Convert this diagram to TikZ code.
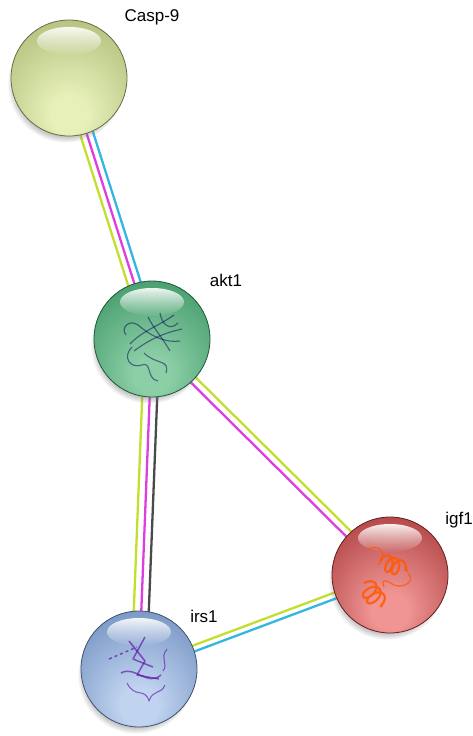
\documentclass[tikz,border=0pt]{standalone}
\usepackage{fontspec}
\setmainfont{Liberation Sans}
\usetikzlibrary{calc,fadings,shadows,backgrounds,decorations.pathmorphing}

% evidence channel colours
\definecolor{textmining}{HTML}{C4DE2E}
\definecolor{experiment}{HTML}{DE3EDE}
\definecolor{database}{HTML}{34B6E0}
\definecolor{coexpress}{HTML}{4A4A4A}
% bubble colours (rim, core)
\definecolor{caspout}{HTML}{ABB975}
\definecolor{caspin}{HTML}{E6F0B8}
\definecolor{aktout}{HTML}{3A9563}
\definecolor{aktin}{HTML}{8CCEA6}
\definecolor{igfout}{HTML}{A73838}
\definecolor{igfin}{HTML}{F09494}
\definecolor{irsout}{HTML}{6C8BBC}
\definecolor{irsin}{HTML}{C0D4F0}

% glassy bubble, light spot sitting low in the ball
\colorlet{bubbleout}{gray}\colorlet{bubblein}{white}\colorlet{bubblerim}{black}
\pgfdeclareradialshading[bubbleout,bubblein,bubblerim]{bubble}{\pgfpoint{0bp}{-18bp}}{%
  color(0bp)=(bubblein); color(8bp)=(bubblein); color(40bp)=(bubbleout); color(64bp)=(bubblerim)}

\tikzset{
  protein/.style 2 args={circle, minimum size=116pt, inner sep=0pt,
    fill=#1, draw=#1!60!black, line width=.8pt,
    circular drop shadow={shadow xshift=-3pt, shadow yshift=-6pt, shadow scale=1.01, opacity=.6},
    path picture={
      \colorlet{bubbleout}{#1}\colorlet{bubblein}{#2}\colorlet{bubblerim}{#1!75!black}
      \shade[shading=bubble] (path picture bounding box.south west) rectangle (path picture bounding box.north east);
      \fill[white, path fading=south, fill opacity=.9] ([yshift=37pt]path picture bounding box.center) ellipse (32pt and 14pt);
    }},
  genename/.style={font=\fontsize{17}{20}\selectfont, inner sep=0pt},
  evid/.style={line width=2.3pt},
}
% one coloured line per evidence channel, shifted sideways from the centre line
\newcommand{\evidence}[4]{\draw[evid,#1] ($(#3)!#2!90:(#4)$) -- ($(#4)!#2!-90:(#3)$);}

\begin{document}
\begin{tikzpicture}[x=1pt,y=-1pt]
  \useasboundingbox (0,0) rectangle (473,736);

  \node[protein={caspout}{caspin}] (casp) at (69,78)  {};
  \node[protein={aktout}{aktin}]   (akt)  at (152,339) {};
  \node[protein={igfout}{igfin}]   (igf)  at (390,575) {};
  \node[protein={irsout}{irsin}]   (irs)  at (139,669) {};

  \node[genename] (casplbl) at (152,17)  {Casp-9};
  \node[genename] (aktlbl)  at (226,280) {akt1};
  \node[genename] (igflbl)  at (459,520) {igf1};
  \node[genename] (irslbl)  at (204,616) {irs1};

  \begin{scope}[on background layer]
    \evidence{textmining}{-6.5pt}{casp}{akt}
    \evidence{experiment}{0pt}{casp}{akt}
    \evidence{database}{6.5pt}{casp}{akt}

    \evidence{textmining}{-7.5pt}{akt}{irs}
    \evidence{experiment}{0pt}{akt}{irs}
    \evidence{coexpress}{7.5pt}{akt}{irs}

    \evidence{textmining}{3.5pt}{akt}{igf}
    \evidence{experiment}{-3.5pt}{akt}{igf}

    \evidence{textmining}{3pt}{irs}{igf}
    \evidence{database}{-3pt}{irs}{igf}
  \end{scope}

  % structure sketches inside the bubbles
  \begin{scope}[shift={(akt)}, draw=blue!35!black, opacity=.5, line width=1.1pt, line join=round]
    \draw (-22,5) .. controls (-10,-8) and (5,-12) .. (22,-24);
    \draw (-18,12) .. controls (-2,0) and (12,-6) .. (30,-10);
    \draw (-14,-14) .. controls (0,-2) and (14,4) .. (28,2);
    \draw (-4,-22) .. controls (2,-10) and (10,-2) .. (18,12);
    \draw (8,-26) .. controls (10,-14) and (18,-8) .. (26,-16);
    \draw (-20,8) .. controls (-30,18) and (-22,30) .. (-10,26) .. controls (0,22) and (-6,40) .. (6,42);
    \draw (-8,14) .. controls (4,26) and (18,20) .. (14,34);
    \draw (-26,-4) .. controls (-32,-12) and (-22,-20) .. (-14,-14);
  \end{scope}
  \begin{scope}[shift={(igf)}, draw=orange!70!red, line width=2.2pt, opacity=.85]
    \draw[decorate, decoration={coil, aspect=.6, segment length=7pt, amplitude=9pt}] (-26,8) -- (-8,32);
    \draw[decorate, decoration={coil, aspect=.6, segment length=7pt, amplitude=8pt}] (-10,-14) -- (18,-4);
    \draw[line width=1.1pt] (-22,-26) .. controls (-8,-32) and (-2,-18) .. (-12,-10);
    \draw[line width=1.1pt] (18,-2) .. controls (26,6) and (14,14) .. (4,10) .. controls (-2,6) and (-10,2) .. (-6,12);
  \end{scope}
  \begin{scope}[shift={(irs)}, draw=violet!70!blue, opacity=.6, line width=1.5pt, line join=round]
    \draw (-10,-28) -- (6,-8) -- (-2,6) -- (20,10);
    \draw (6,-32) -- (-6,-10) -- (14,-2);
    \draw[dashed] (-30,-10) -- (-2,-22);
    \draw (-18,4) .. controls (-4,-4) and (8,18) .. (22,6);
    \draw[line width=1pt] (-12,14) .. controls (-4,30) and (6,18) .. (10,32) .. controls (14,20) and (22,26) .. (26,16);
    \draw[line width=1pt] (28,-20) .. controls (20,-10) and (30,-6) .. (24,2);
  \end{scope}
\end{tikzpicture}
\end{document}
